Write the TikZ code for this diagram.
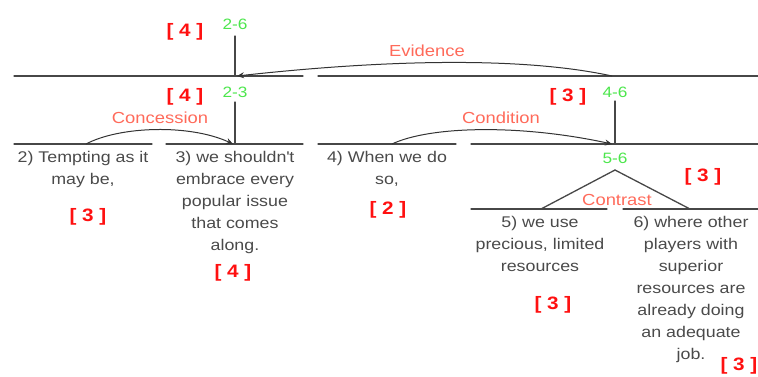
\documentclass[tikz,border=0pt]{standalone}
\usepackage{fontspec}
\setmainfont{Liberation Sans}[FakeStretch=1.15]
\usepackage{tkz-euclide}
\usetikzlibrary{arrows.meta}
\definecolor{unitgray}{HTML}{4A4A4A}
\definecolor{spangreen}{HTML}{4CE64C}
\definecolor{relpink}{HTML}{FF6A5A}
\definecolor{rankred}{HTML}{FF1010}
\tikzset{
  rstline/.style={line width=1.3pt,black!72},
  rstarrow/.style={line width=1pt,black!80,-{Stealth[length=7pt,width=6pt]}},
  unittext/.style={inner sep=0pt,anchor=north,align=center,text=unitgray,
    font=\fontsize{15.5}{22}\selectfont},
  spanlabel/.style={inner sep=0pt,text=spangreen,font=\fontsize{15}{15}\selectfont},
  rellabel/.style={inner sep=0pt,text=relpink,font=\fontsize{16}{16}\selectfont},
  ranklabel/.style={inner sep=0pt,text=rankred,font=\bfseries\fontsize{18}{18}\selectfont},
}
\begin{document}
\begin{tikzpicture}[x=1pt,y=-1pt]
  \useasboundingbox (0,0) rectangle (758,376);
  % 顶层「2-6」
  \tkzDefPoint(14,76){A1}  \tkzDefPoint(303,76){A2}
  \tkzDefPoint(318,76){A3} \tkzDefPoint(758,76){A4}
  \tkzDefPoint(235,36){T26} \tkzDefPoint(235,76){R26}
  \tkzDrawSegments[rstline](A1,A2 A3,A4 T26,R26)
  % 第二层「2-3」「4-6」
  \tkzDefPoint(14,144){B1}  \tkzDefPoint(152,144){B2}
  \tkzDefPoint(166,144){B3} \tkzDefPoint(303,144){B4}
  \tkzDefPoint(318,144){B5} \tkzDefPoint(456,144){B6}
  \tkzDefPoint(471,144){B7} \tkzDefPoint(758,144){B8}
  \tkzDefPoint(235,102){T23} \tkzDefPoint(235,144){R23}
  \tkzDefPoint(615,101){T46} \tkzDefPoint(615,144){R46}
  \tkzDrawSegments[rstline](B1,B2 B3,B4 B5,B6 B7,B8 T23,R23 T46,R46)
  % 第三层「5-6」,多核
  \tkzDefPoint(471,209){C1} \tkzDefPoint(607,209){C2}
  \tkzDefPoint(623,209){C3} \tkzDefPoint(758,209){C4}
  \tkzDefPoint(615,170){P56}
  \tkzDefPoint(541,209){F5} \tkzDefPoint(690,209){F6}
  \tkzDrawSegments[rstline](C1,C2 C3,C4 P56,F5 P56,F6)
  % 关系箭头
  \tkzDefPoint(612,76){EvS} \tkzDefPoint(530,58){EvA}
  \tkzDefPoint(400,58){EvB} \tkzDefPoint(237,76){EvE}
  \draw[rstarrow] (EvS) .. controls (EvA) and (EvB) .. (EvE);
  \tkzDefPoint(86,144){CoS} \tkzDefPoint(120,126){CoA}
  \tkzDefPoint(190,124){CoB} \tkzDefPoint(233,144){CoE}
  \draw[rstarrow] (CoS) .. controls (CoA) and (CoB) .. (CoE);
  \tkzDefPoint(392,144){CdS} \tkzDefPoint(430,126){CdA}
  \tkzDefPoint(520,124){CdB} \tkzDefPoint(612,144){CdE}
  \draw[rstarrow] (CdS) .. controls (CdA) and (CdB) .. (CdE);
  % 标签
  \node[spanlabel] (s26) at (235,24) {2-6};
  \node[spanlabel] (s23) at (235,92) {2-3};
  \node[spanlabel] (s46) at (615,92) {4-6};
  \node[spanlabel] (s56) at (615,158) {5-6};
  \node[rellabel] (evidence) at (427,51) {Evidence};
  \node[rellabel] (concession) at (160,118) {Concession};
  \node[rellabel] (condition) at (501,118) {Condition};
  \node[rellabel] (contrast) at (617,200) {Contrast};
  \node[ranklabel] (r26) at (185,32) {[ 4 ]};
  \node[ranklabel] (r23) at (185,97) {[ 4 ]};
  \node[ranklabel] (r46) at (568,97) {[ 3 ]};
  \node[ranklabel] (r56) at (703,177) {[ 3 ]};
  % 基本单元
  \node[unittext] (u2) at (83,151) {2) Tempting as it\\may be,};
  \node[unittext] (u3) at (235,151) {3) we shouldn\textquotesingle t\\embrace every\\popular issue\\that comes\\along.};
  \node[unittext] (u4) at (387,151) {4) When we do\\so,};
  \node[unittext] (u5) at (540,216) {5) we use\\precious, limited\\resources};
  \node[unittext] (u6) at (691,216) {6) where other\\players with\\superior\\resources are\\already doing\\an adequate\\job.};
  \node[ranklabel] (r2) at (88,217) {[ 3 ]};
  \node[ranklabel] (r3) at (233,273) {[ 4 ]};
  \node[ranklabel] (r4) at (388,210) {[ 2 ]};
  \node[ranklabel] (r5) at (553,305) {[ 3 ]};
  \node[ranklabel] (r6) at (739,366) {[ 3 ]};
\end{tikzpicture}
\end{document}
